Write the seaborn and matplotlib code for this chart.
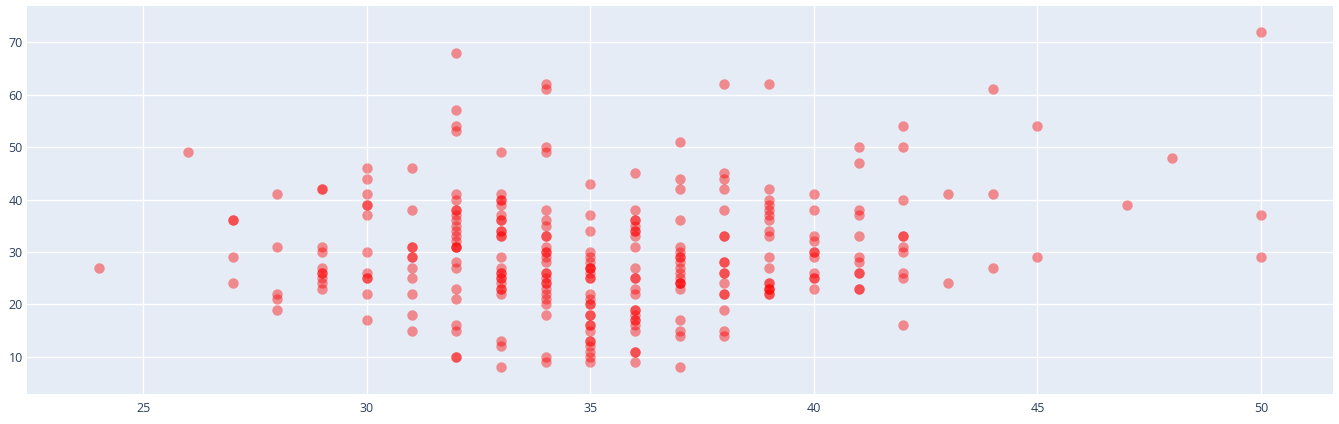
import numpy as np
import pandas as pd
import matplotlib
matplotlib.use("Agg")
import matplotlib.pyplot as plt
import seaborn as sns

# x categories and the y values observed at each x
x_levels = [24, 26, 27, 28, 29, 30, 31, 32, 33, 34, 35, 36, 37, 38, 39, 40, 41, 42, 43, 44, 45, 47, 48, 50]
y_24 = [27]
y_26 = [49]
y_27 = [36, 36, 29, 24]
y_28 = [41, 31, 22, 21, 19]
y_29 = [42, 42, 31, 30, 27, 26, 26, 25, 24, 23]
y_30 = [46, 44, 41, 39, 39, 37, 30, 26, 25, 25, 22, 17]
y_31 = [46, 38, 31, 31, 29, 29, 27, 25, 22, 18, 15]
y_32 = [68, 57, 54, 53, 41, 40, 38, 38, 37, 36, 35, 34, 33, 32, 31, 31, 31, 28, 27, 23, 21, 16, 15, 10, 10]
y_33 = [49, 41, 40, 40, 39, 37, 36, 36, 34, 34, 33, 33, 29, 27, 26, 26, 25, 25, 24, 23, 23, 22, 13, 12, 8]
y_34 = [62, 61, 50, 49, 38, 36, 35, 33, 33, 31, 30, 30, 29, 28, 26, 26, 25, 24, 24, 23, 22, 21, 20, 18, 10, 9]
y_35 = [43, 37, 34, 30, 29, 28, 27, 27, 27, 26, 25, 25, 22, 21, 20, 20, 18, 18, 16, 16, 15, 13, 13, 12, 11, 10, 9]
y_36 = [45, 38, 36, 36, 35, 34, 34, 33, 31, 27, 25, 25, 23, 22, 19, 19, 18, 17, 17, 16, 15, 11, 11, 9]
y_37 = [51, 44, 42, 36, 31, 30, 29, 29, 28, 27, 26, 25, 24, 24, 24, 23, 17, 15, 14, 8]
y_38 = [62, 45, 44, 42, 38, 33, 33, 28, 28, 26, 26, 24, 22, 22, 19, 15, 14]
y_39 = [62, 42, 40, 39, 38, 37, 36, 34, 33, 29, 27, 24, 24, 23, 23, 23, 22, 22]
y_40 = [41, 38, 33, 32, 30, 30, 29, 26, 25, 25, 23]
y_41 = [50, 47, 38, 37, 33, 29, 28, 26, 26, 23, 23]
y_42 = [54, 50, 40, 33, 33, 31, 30, 26, 25, 16]
y_43 = [41, 24]
y_44 = [61, 41, 27]
y_45 = [54, 29]
y_47 = [39]
y_48 = [48]
y_50 = [72, 37, 29]

y_groups = [y_24, y_26, y_27, y_28, y_29, y_30, y_31, y_32, y_33, y_34, y_35, y_36,
            y_37, y_38, y_39, y_40, y_41, y_42, y_43, y_44, y_45, y_47, y_48, y_50]

xs, ys = [], []
for xv, grp in zip(x_levels, y_groups):
    xs.extend([xv] * len(grp))
    ys.extend(grp)
df = pd.DataFrame({"x": xs, "y": ys})

x_ticks = [25, 30, 35, 40, 45, 50]
y_ticks = [10, 20, 30, 40, 50, 60, 70]

sns.set_style("white")
plt.rcParams["font.family"] = ["Open Sans", "DejaVu Sans"]

W, H = 1339, 424
fig = plt.figure(figsize=(W / 100, H / 100), dpi=100)
ax = fig.add_axes([27 / W, 1 - 394 / H, (1333 - 27) / W, (394 - 6) / H])
ax.set_facecolor("#E5ECF6")

sns.scatterplot(data=df, x="x", y="y", ax=ax, color="#FF0000", alpha=0.42,
                s=56, linewidth=0, zorder=3)

ax.set_xlim(22.4, 51.61)
ax.set_ylim(2.95, 76.86)
ax.set_xticks(x_ticks)
ax.set_yticks(y_ticks)
ax.grid(True, color="white", linewidth=1.0, zorder=0)
ax.set_axisbelow(True)
for sp in ax.spines.values():
    sp.set_visible(False)
ax.tick_params(axis="both", length=0, labelsize=9, labelcolor="#2a3f5f")
ax.tick_params(axis="x", pad=6)
ax.tick_params(axis="y", pad=3)
ax.set_xlabel("")
ax.set_ylabel("")

fig.savefig("out.png", dpi=100, facecolor="white")
